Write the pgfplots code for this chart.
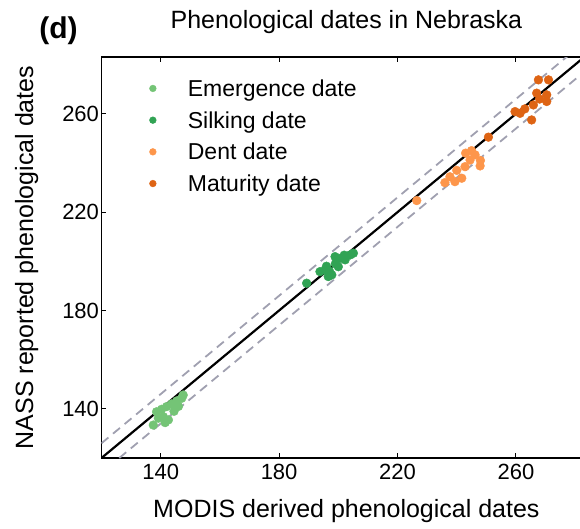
\documentclass[border=0pt]{standalone}
\usepackage{fontspec}
\setmainfont{Liberation Sans}
\usepackage{pgfplots}
\pgfplotsset{compat=1.18}
\definecolor{emer}{RGB}{116,196,118}
\definecolor{silk}{RGB}{49,163,84}
\definecolor{dent}{RGB}{253,150,75}
\definecolor{matu}{RGB}{222,100,20}
\definecolor{dashgray}{RGB}{160,160,176}

\begin{document}
\begin{tikzpicture}
\useasboundingbox (-101.5pt,-70pt) rectangle (478.5pt,458pt);
\begin{axis}[
    at={(0pt,0pt)}, anchor=south west, scale only axis,
    width=484pt, height=401pt,
    xmin=120, xmax=283.5, ymin=120, ymax=283.1,
    xtick={140,180,220,260}, ytick={140,180,220,260},
    tick align=inside, major tick length=5pt,
    axis line style={line width=1.3pt},
    tick style={line width=1pt, black},
    /pgf/number format/assume math mode=true,
    tick label style={font=\fontsize{22}{26}\selectfont},
    xticklabel style={yshift=-3pt},
    yticklabel style={xshift=1pt},
    xlabel={MODIS derived phenological dates},
    ylabel={NASS reported phenological dates},
    label style={font=\fontsize{25}{30}\selectfont},
    xlabel style={at={(axis description cs:0.506,-0.1496)}, anchor=base},
    ylabel style={at={(axis description cs:-0.1415,0.5)}, anchor=base},
    title={Phenological dates in Nebraska},
    title style={at={(axis description cs:0.506,1.055)}, anchor=base, inner sep=0pt,
                 font=\fontsize{25}{30}\selectfont},
    legend style={at={(rel axis cs:0.0954,0.952)}, anchor=north west, draw=none, fill=none,
                  inner sep=0pt, font=\fontsize{23}{27}\selectfont, row sep=7.7pt,
                  nodes={inner sep=2pt, text height=18pt, text depth=2pt}},
    legend cell align=left,
    legend image code/.code={\draw[#1, mark size=3.4pt] plot coordinates {(0pt,0pt)};
                             \path[draw=none, fill=none] (-5pt,-3pt) rectangle (33pt,3pt);},
    after end axis/.code={\node[anchor=base west, inner sep=0pt,
        font=\bfseries\fontsize{30}{36}\selectfont] at (rel axis cs:-0.129,1.047) {(d)};},
]
  % +/- tolerance lines
  \addplot[forget plot, dashgray, line width=1.8pt, dash pattern=on 9pt off 6pt] coordinates {(120,126) (290,296)};
  \addplot[forget plot, dashgray, line width=1.8pt, dash pattern=on 9pt off 6pt] coordinates {(126,120) (296,290)};

  % emergence
  \addplot[only marks, mark=*, mark size=4.4pt, emer, mark options={draw=emer, fill=emer}] coordinates {
    (138.6,138.8) (140.3,139.8) (142.0,140.9) (143.7,142.0) (145.4,143.2) (147.1,144.3)
    (147.6,145.6) (140.9,136.8) (142.6,135.5) (141.5,134.4) (139.2,136.2) (137.5,133.4)
    (144.5,139.0) (146.0,141.0)};
  \addlegendentry{Emergence date}
  % silking
  \addplot[only marks, mark=*, mark size=4.4pt, silk, mark options={draw=silk, fill=silk}] coordinates {
    (189.3,191.1) (193.8,195.8) (195.5,196.5) (197.8,194.5) (198.9,201.9) (200.6,201.2)
    (202.3,200.6) (204.0,202.6) (205.1,203.3) (200.0,197.8) (196.6,193.8) (196.0,198.0)
    (199.0,199.0) (202.0,202.5) (197.0,196.0)};
  \addlegendentry{Silking date}
  % dent
  \addplot[only marks, mark=*, mark size=4.4pt, dent, mark options={draw=dent, fill=dent}] coordinates {
    (226.5,224.7) (237.7,234.4) (239.4,232.4) (241.7,233.8) (242.8,238.5) (244.5,241.2)
    (246.2,243.3) (247.9,238.8) (236.0,232.0) (243.0,244.0) (240.0,237.0) (245.0,245.0)
    (248.0,241.0)};
  \addlegendentry{Dent date}
  % maturity
  \addplot[only marks, mark=*, mark size=4.4pt, matu, mark options={draw=matu, fill=matu}] coordinates {
    (250.7,250.5) (259.7,260.9) (261.4,260.2) (265.3,257.5) (265.9,263.6) (267.0,268.4)
    (267.6,273.8) (271.0,273.8) (270.4,267.7) (270.4,265.0) (263.0,262.0) (268.0,266.0)};
  \addlegendentry{Maturity date}

  % 1:1 line
  \addplot[forget plot, black, line width=2.2pt] coordinates {(120,120) (290,290)};
\end{axis}
\end{tikzpicture}
\end{document}
